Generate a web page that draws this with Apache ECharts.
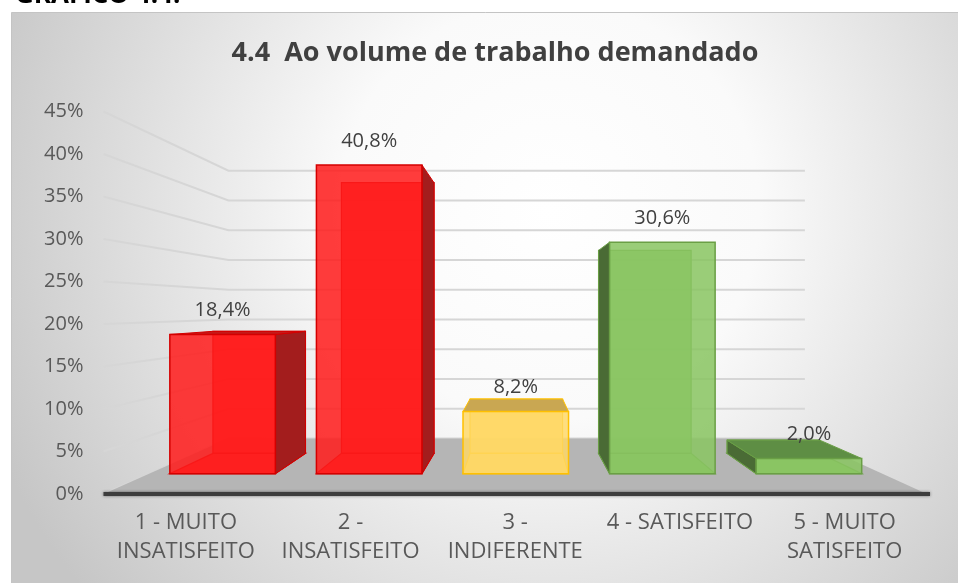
<!DOCTYPE html>
<html>
<head>
<meta charset="utf-8">
<script src="https://cdn.jsdelivr.net/npm/echarts@6/dist/echarts.min.js"></script>
<style>
  html, body { margin: 0; padding: 0; background: #ffffff; }
  #chart { width: 958px; height: 583px; }
</style>
</head>
<body>
<div id="chart"></div>
<script>
// ---------- data ----------
const categories = ['1 - MUITO\nINSATISFEITO', '2 -\nINSATISFEITO', '3 -\nINDIFERENTE', '4 - SATISFEITO', '5 - MUITO\nSATISFEITO'];
const values = [18.4, 40.8, 8.2, 30.6, 2.0];
const yTicks = [0, 5, 10, 15, 20, 25, 30, 35, 40, 45];
const chartTitle = '4.4  Ao volume de trabalho demandado';
const pageHeading = 'GRÁFICO 4.4.';

// ---------- style / layout ----------
const FONT = '"Open Sans", "Noto Sans", sans-serif';
const RED = { front: 'rgba(255,28,28,0.86)', edge: '#d40000', side: '#a31d1d', top: '#c41a1a' };
const YEL = { front: 'rgba(255,216,100,0.82)', edge: '#ffc000', side: '#c79a1e', top: '#c9a752' };
const GRN = { front: 'rgba(137,197,98,0.86)', edge: '#6a9f45', side: '#4a6b35', top: '#5e8e44' };
const barStyles = [RED, RED, YEL, GRN, GRN];

const VP = { x: 520, y: 309 };       // vanishing point of the perspective
const K_BAR_FRONT = 0.89;            // depth factor of bar front faces
const K_BAR_BACK = 0.89 * 0.877;     // depth factor of bar back faces
const K_WALL = 0.70;                 // depth factor of back wall
const BAR_RATIO = 0.72;

function proj(p, k) {
  return [VP.x + k * (p[0] - VP.x), VP.y + k * (p[1] - VP.y)];
}
function fmt(v) { return v.toFixed(1).replace('.', ',') + '%'; }

function renderWalls(params, api) {
  const cs = params.coordSys;
  const v = api.value(1);
  const y = api.coord([0, v])[1];
  const fl = [cs.x, y], fr = [cs.x + cs.width, y];
  const bl = proj(fl, K_WALL), br = proj(fr, K_WALL);
  return {
    type: 'polyline',
    shape: { points: [fl, bl, br] },
    style: { stroke: '#d6d6d6', lineWidth: 2, fill: null }
  };
}

function renderFloor(params, api) {
  const cs = params.coordSys;
  const y = api.coord([0, 0])[1];
  const fl = [cs.x, y], fr = [cs.x + cs.width, y];
  const bl = proj(fl, K_WALL), br = proj(fr, K_WALL);
  return {
    type: 'group',
    children: [
      { type: 'polygon', shape: { points: [fl, fr, br, bl] }, style: { fill: '#b5b5b5' } },
      { type: 'line', shape: { x1: fl[0], y1: y, x2: fr[0] + 3, y2: y },
        style: { stroke: '#3d3d3d', lineWidth: 4, shadowBlur: 3, shadowColor: 'rgba(0,0,0,0.5)' } }
    ]
  };
}

function renderBar(params, api) {
  const i = api.value(0), v = api.value(1);
  const top = api.coord([i, v]), base = api.coord([i, 0]);
  const half = api.size([1, 0])[0] * BAR_RATIO / 2;
  const F = [[top[0] - half, top[1]], [top[0] + half, top[1]], [top[0] + half, base[1]], [top[0] - half, base[1]]];
  const f = F.map(p => proj(p, K_BAR_FRONT));
  const b = F.map(p => proj(p, K_BAR_BACK));
  const st = barStyles[i];
  const ch = [];
  // back face + inner edges (seen through the translucent front)
  ch.push({ type: 'polygon', shape: { points: b }, style: { fill: st.front, stroke: st.edge, lineWidth: 1.2 } });
  ch.push({ type: 'polygon', shape: { points: [f[3], f[2], b[2], b[3]] }, style: { fill: st.front, stroke: st.edge, lineWidth: 1.2 } });
  // side faces
  if (f[1][0] < VP.x) {
    ch.push({ type: 'polygon', shape: { points: [f[1], b[1], b[2], f[2]] }, style: { fill: st.side, stroke: st.edge, lineWidth: 1 } });
  }
  if (f[0][0] > VP.x) {
    ch.push({ type: 'polygon', shape: { points: [f[0], b[0], b[3], f[3]] }, style: { fill: st.side, stroke: st.edge, lineWidth: 1 } });
  }
  // top face
  if (f[0][1] > VP.y) {
    ch.push({ type: 'polygon', shape: { points: [f[0], f[1], b[1], b[0]] }, style: { fill: st.top, stroke: st.edge, lineWidth: 1 } });
  }
  // front face
  ch.push({ type: 'polygon', shape: { points: f }, style: { fill: st.front, stroke: st.edge, lineWidth: 1.5 } });
  // value label
  ch.push({
    type: 'text',
    x: (f[0][0] + f[1][0]) / 2,
    y: f[0][1] - 24,
    style: { text: fmt(v), font: '20px ' + FONT, fill: '#404040', align: 'center', verticalAlign: 'middle' }
  });
  return { type: 'group', children: ch };
}

const chart = echarts.init(document.getElementById('chart'), null, { renderer: 'canvas' });
chart.setOption({
  backgroundColor: '#ffffff',
  animation: false,
  title: {
    text: chartTitle,
    left: 490,
    top: 35,
    textAlign: 'center',
    textStyle: { fontFamily: FONT, fontSize: 27, fontWeight: 'bold', color: '#404040' }
  },
  graphic: [
    {
      type: 'rect', z: -100, silent: true,
      shape: { x: 11.5, y: 12.5, width: 960, height: 600 },
      style: {
        stroke: '#c4c4c4', lineWidth: 1,
        fill: {
          type: 'radial', x: 0.56, y: 0.33, r: 1.0,
          colorStops: [
            { offset: 0, color: '#ffffff' },
            { offset: 0.35, color: '#fafafa' },
            { offset: 1, color: '#c6c6c6' }
          ]
        }
      }
    },
    {
      type: 'text', z: 100, silent: true, x: 15, y: 9,
      style: { text: pageHeading, font: 'bold 26px ' + FONT, fill: '#000000', verticalAlign: 'bottom' }
    }
  ],
  grid: { left: 103.5, right: 31, top: 111.5, bottom: 89 },
  xAxis: {
    type: 'category',
    data: categories,
    axisLine: { show: false },
    axisTick: { show: false },
    splitLine: { show: false },
    axisLabel: { fontFamily: FONT, fontSize: 22, lineHeight: 29, color: '#595959', margin: 14, interval: 0 }
  },
  yAxis: {
    type: 'value',
    min: 0, max: 45, interval: 5,
    axisLine: { show: false },
    axisTick: { show: false },
    splitLine: { show: false },
    axisLabel: { fontFamily: FONT, fontSize: 20, color: '#595959', margin: 20, formatter: '{value}%' }
  },
  series: [
    { type: 'custom', name: 'walls', z: 2, silent: true, clip: false,
      data: yTicks.map(v => [0, v]), renderItem: renderWalls },
    { type: 'custom', name: 'floor', z: 3, silent: true, clip: false,
      data: [[0, 0]], renderItem: renderFloor },
    { type: 'custom', name: 'bars', z: 4, silent: true, clip: false,
      data: values.map((v, i) => [i, v]), renderItem: renderBar }
  ]
});
</script>
</body>
</html>
